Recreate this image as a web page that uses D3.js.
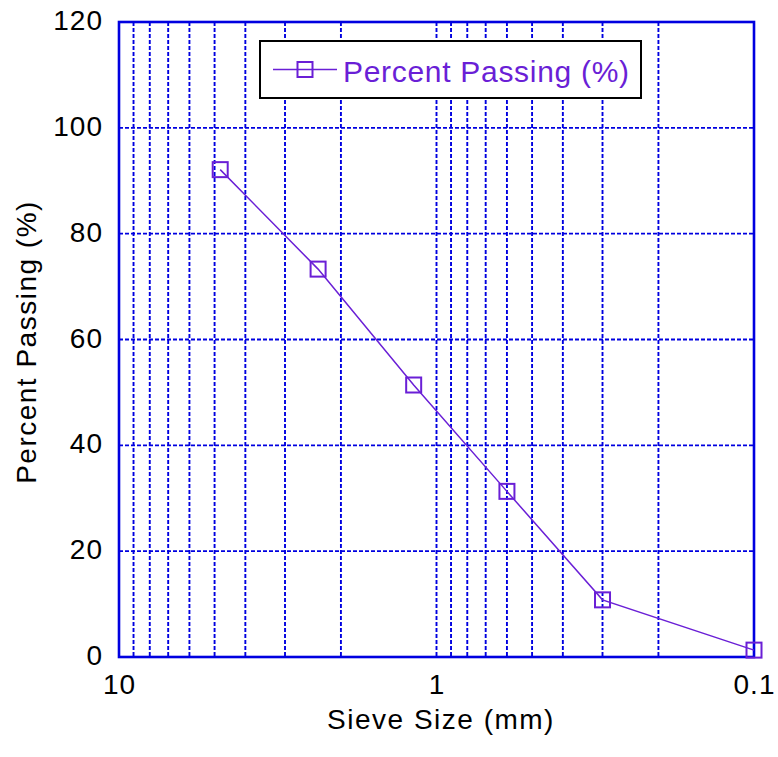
<!DOCTYPE html>
<html>
<head>
<meta charset="utf-8">
<script src="https://cdn.jsdelivr.net/npm/d3@7"></script>
<style>
  html, body { margin: 0; padding: 0; background: #ffffff; }
  svg { display: block; }
  text { font-family: "Liberation Sans", Arial, Helvetica, sans-serif; }
</style>
</head>
<body>
<svg id="chart" width="778" height="757"></svg>
<script>
// Sieve analysis: percent passing vs. sieve opening
const sieveSizes = [4.8, 2.36, 1.18, 0.6, 0.3, 0.1];        // mm
const percentPassing = [92.1, 73.3, 51.4, 31.3, 10.8, 1.3]; // %
const xTickValues = [10, 1, 0.1];
const yTickValues = [0, 20, 40, 60, 80, 100, 120];
const seriesName = "Percent Passing (%)";
const xTitle = "Sieve Size (mm)";
const yTitle = "Percent Passing (%)";

const gridBlue = "#0000e0";
const seriesColor = "#6a1fd6";

const svg = d3.select("#chart");
const plot = { left: 119, right: 754, top: 22, bottom: 657 };

const x = d3.scaleLog().domain([10, 0.1]).range([plot.left, plot.right]);
const y = d3.scaleLinear().domain([0, 120]).range([plot.bottom, plot.top]);

// dashed grid: every log step (1..9 per decade) and every 20 %
const grid = svg.append("g").attr("stroke", gridBlue).attr("stroke-width", 1.9)
  .attr("stroke-dasharray", "4,2");
grid.selectAll("line.v").data(x.ticks().filter(v => v < 10 && v > 0.1))
  .join("line").attr("class", "v")
  .attr("x1", d => x(d)).attr("x2", d => x(d))
  .attr("y1", plot.top).attr("y2", plot.bottom);
grid.selectAll("line.h").data(yTickValues.filter(v => v > 0 && v < 120))
  .join("line").attr("class", "h")
  .attr("x1", plot.left).attr("x2", plot.right)
  .attr("y1", d => y(d)).attr("y2", d => y(d));

// solid frame
svg.append("rect")
  .attr("x", plot.left).attr("y", plot.top)
  .attr("width", plot.right - plot.left).attr("height", plot.bottom - plot.top)
  .attr("fill", "none").attr("stroke", gridBlue).attr("stroke-width", 2.6);

// axes (labels only; frame drawn above)
const xAxis = svg.append("g").attr("transform", `translate(0,${plot.bottom})`)
  .call(d3.axisBottom(x).tickValues(xTickValues).tickSize(0).tickPadding(0)
    .tickFormat(d3.format("~g")));
xAxis.select(".domain").remove();
xAxis.selectAll("text").attr("dy", null).attr("y", 37)
  .attr("font-size", 28).attr("fill", "#000").attr("font-family", null)
  .attr("letter-spacing", 1);

const yAxis = svg.append("g").attr("transform", `translate(${plot.left},0)`)
  .call(d3.axisLeft(y).tickValues(yTickValues).tickSize(0).tickPadding(0));
yAxis.select(".domain").remove();
yAxis.selectAll("text").attr("dy", null).attr("x", -16).attr("y", 7.5)
  .attr("font-size", 28).attr("fill", "#000").attr("font-family", null)
  .attr("letter-spacing", 1);
svg.selectAll(".tick line").remove();

// axis titles
svg.append("text").attr("x", 441).attr("y", 729).attr("text-anchor", "middle")
  .attr("font-size", 28).attr("letter-spacing", 1.5).text(xTitle);
svg.append("text").attr("transform", "translate(36,342) rotate(-90)")
  .attr("text-anchor", "middle").attr("font-size", 28).attr("letter-spacing", 1.5)
  .text(yTitle);

// series line + square markers
const data = sieveSizes.map((s, i) => ({ s, p: percentPassing[i] }));
const m = 15;
svg.append("path").datum(data)
  .attr("fill", "none").attr("stroke", seriesColor).attr("stroke-width", 1.5)
  .attr("d", d3.line().x(d => x(d.s)).y(d => y(d.p)));
svg.append("g").selectAll("rect").data(data).join("rect")
  .attr("x", d => x(d.s) - m / 2).attr("y", d => y(d.p) - m / 2)
  .attr("width", m).attr("height", m)
  .attr("fill", "none").attr("stroke", seriesColor).attr("stroke-width", 2);

// legend
const lg = svg.append("g");
lg.append("rect").attr("x", 260).attr("y", 41).attr("width", 381).attr("height", 57)
  .attr("fill", "#fff").attr("stroke", "#000").attr("stroke-width", 2);
lg.append("line").attr("x1", 273).attr("x2", 337).attr("y1", 69.5).attr("y2", 69.5)
  .attr("stroke", seriesColor).attr("stroke-width", 1.5);
lg.append("rect").attr("x", 305 - m / 2).attr("y", 69.5 - m / 2).attr("width", m).attr("height", m)
  .attr("fill", "none").attr("stroke", seriesColor).attr("stroke-width", 2);
lg.append("text").attr("x", 343).attr("y", 82).attr("font-size", 30)
  .attr("letter-spacing", 0.7).attr("fill", seriesColor).text(seriesName);
</script>
</body>
</html>
